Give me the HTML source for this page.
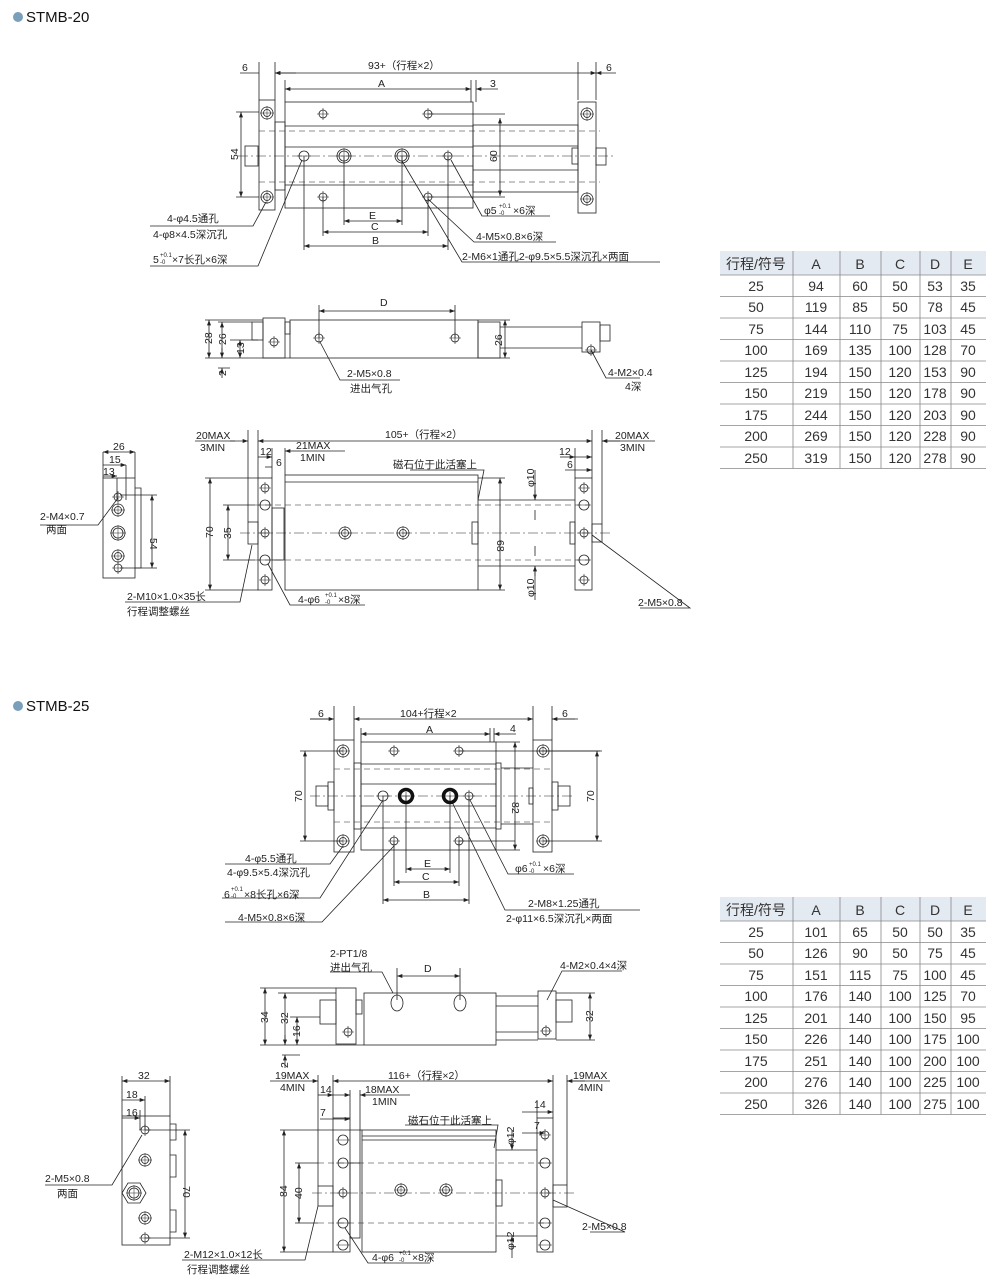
<!DOCTYPE html>
<html><head><meta charset="utf-8"><style>
html,body{margin:0;padding:0;background:#fff;width:1000px;height:1282px;overflow:hidden}
svg{display:block}
text{font-family:"Liberation Sans","Noto Sans CJK SC",sans-serif;fill:#222;font-size:10.5px}
.t{font-size:15px;fill:#111}
.tb{font-size:14px;fill:#333}
</style></head><body>
<svg width="1000" height="1282" viewBox="0 0 1000 1282" xmlns="http://www.w3.org/2000/svg">
<defs>
<marker id="ar" viewBox="0 0 8 6" refX="8" refY="3" markerWidth="7" markerHeight="5" orient="auto-start-reverse"><path d="M0,0L8,3L0,6z" fill="#222"/></marker>
<g id="ch"><circle r="4" fill="none" stroke="#222" stroke-width="0.8"/><path d="M-6,0H6M0,-6V6" stroke="#222" stroke-width="0.6"/></g>
<g id="mh"><circle r="6" fill="none" stroke="#222" stroke-width="0.8"/><circle r="3.5" fill="none" stroke="#222" stroke-width="0.8"/><path d="M-7,0H7M0,-7V7" stroke="#222" stroke-width="0.5"/></g>
<g id="bh"><circle r="7" fill="none" stroke="#222" stroke-width="0.8"/><circle r="5" fill="none" stroke="#222" stroke-width="0.8"/><path d="M-8,0H8M0,-8V8" stroke="#222" stroke-width="0.5"/></g>
<g id="bk"><circle r="6.5" fill="none" stroke="#111" stroke-width="3.5"/><path d="M-4,0H4M0,-4V4" stroke="#222" stroke-width="0.6"/></g>
<g id="sh"><circle r="5" fill="none" stroke="#222" stroke-width="0.8"/><path d="M-7,0H7" stroke="#222" stroke-width="0.5"/></g>
</defs>

<circle cx="18" cy="17" r="5" fill="#7a9fbb"/><text x="26" y="22" class="t">STMB-20</text>
<circle cx="18" cy="706" r="5" fill="#7a9fbb"/><text x="26" y="711" class="t">STMB-25</text>

<g fill="none" stroke="#222" stroke-width="0.8">
<rect x="259" y="100" width="16" height="110"/>
<rect x="275" y="122" width="10" height="68"/>
<rect x="245" y="146" width="13" height="20"/>
<rect x="285" y="102" width="188" height="106"/>
<path d="M285,126H473M285,147H473M285,166H473M285,185H473"/>
<rect x="473" y="125" width="105" height="67"/>
<path d="M473,146H578M473,170H578"/>
<rect x="578" y="102" width="18" height="111"/>
<rect x="572" y="148" width="6" height="16"/>
<rect x="596" y="148" width="10" height="17"/>
<path d="M259,131H600M259,182H600" stroke-dasharray="6,4" stroke-width="0.6"/>
<path d="M238,156H615" stroke-dasharray="10,3,2,3" stroke-width="0.6"/>
<path d="M259,100V62M275,100V62M578,100V62M596,100V62M285,102V80M471,102V80M476,102V80"/>
<path d="M240,73H259M296,73H275" marker-end="url(#ar)"/>
<path d="M275,73H596" marker-start="url(#ar)" marker-end="url(#ar)"/>
<path d="M616,73H596" marker-end="url(#ar)"/>
<path d="M285,89H471" marker-start="url(#ar)" marker-end="url(#ar)"/>
<path d="M498,89H476" marker-end="url(#ar)"/>
<path d="M241,112V197" marker-start="url(#ar)" marker-end="url(#ar)"/>
<path d="M236,112H259M236,197H259"/>
<path d="M500,118V196" marker-start="url(#ar)" marker-end="url(#ar)"/>
<path d="M428,114H505M428,197H505"/>
<path d="M344,156V225M402,156V225M323,197V236M428,197V236M304,156V250M448,156V250"/>
<path d="M344,221H402" marker-start="url(#ar)" marker-end="url(#ar)"/>
<path d="M323,232H428" marker-start="url(#ar)" marker-end="url(#ar)"/>
<path d="M304,246H448" marker-start="url(#ar)" marker-end="url(#ar)"/>
<path d="M150,226H253L266,202M150,266H258L302,160M451,160L482,216H550M428,199L474,242H556M402,161L462,262H660"/>
</g>
<use href="#mh" x="267" y="113"/><use href="#mh" x="267" y="197"/>
<use href="#mh" x="587" y="114"/><use href="#mh" x="587" y="199"/>
<use href="#ch" x="323" y="114"/><use href="#ch" x="428" y="114"/>
<use href="#ch" x="323" y="197"/><use href="#ch" x="428" y="197"/>
<use href="#sh" x="304" y="156"/><use href="#bh" x="344" y="156"/><use href="#bh" x="402" y="156"/><use href="#ch" x="448" y="156"/>
<text x="242" y="71">6</text><text x="368" y="69">93+（行程×2）</text><text x="606" y="71">6</text>
<text x="378" y="87">A</text><text x="490" y="87">3</text>
<text x="238" y="160" transform="rotate(-90 238 160)">54</text>
<text x="497" y="162" transform="rotate(-90 497 162)">60</text>
<text x="369" y="219">E</text><text x="371" y="230">C</text><text x="372" y="244">B</text>
<text x="167" y="222">4-φ4.5通孔</text><text x="153" y="238">4-φ8×4.5深沉孔</text>
<text x="153" y="263">5</text><text x="160" y="257" style="font-size:6px">+0.1</text><text x="160" y="264" style="font-size:6px">-0</text><text x="172" y="263">×7长孔×6深</text>
<text x="484" y="214">φ5</text><text x="499" y="208" style="font-size:6px">+0.1</text><text x="499" y="215" style="font-size:6px">-0</text><text x="513" y="214">×6深</text>
<text x="476" y="240">4-M5×0.8×6深</text>
<text x="462" y="260">2-M6×1通孔2-φ9.5×5.5深沉孔×两面</text>

<g fill="none" stroke="#222" stroke-width="0.8">
<rect x="263" y="318" width="22" height="40"/>
<rect x="252" y="322" width="11" height="18"/>
<rect x="285" y="322" width="5" height="12"/>
<rect x="290" y="320" width="188" height="38"/>
<rect x="478" y="322" width="22" height="36"/>
<path d="M500,327H582M500,348H582"/>
<rect x="582" y="322" width="18" height="30"/>
<rect x="600" y="325" width="10" height="16"/>
<path d="M205,320H263M205,358H290M218,322H252M230,340H258M218,368H230"/>
<path d="M209,320V358" marker-start="url(#ar)" marker-end="url(#ar)"/>
<path d="M222,322V358" marker-start="url(#ar)" marker-end="url(#ar)"/>
<path d="M240,340V358" marker-start="url(#ar)" marker-end="url(#ar)"/>
<path d="M222,348V358M222,378V368" marker-end="url(#ar)"/>
<path d="M505,320V358" marker-start="url(#ar)" marker-end="url(#ar)"/>
<path d="M478,320H510M478,358H510"/>
<path d="M319,338V305M455,338V305"/>
<path d="M319,311H455" marker-start="url(#ar)" marker-end="url(#ar)"/>
<path d="M320,342L340,380H400M591,350L606,378H640"/>
</g>
<use href="#ch" x="319" y="338"/><use href="#ch" x="455" y="338"/>
<use href="#ch" x="274" y="342"/><use href="#ch" x="591" y="350"/>
<text x="380" y="306">D</text>
<text x="212" y="344" transform="rotate(-90 212 344)">28</text>
<text x="226" y="345" transform="rotate(-90 226 345)">26</text>
<text x="244" y="354" transform="rotate(-90 244 354)">13</text>
<text x="226" y="376" transform="rotate(-90 226 376)">2</text>
<text x="502" y="346" transform="rotate(-90 502 346)">26</text>
<text x="347" y="377">2-M5×0.8</text><text x="350" y="392">进出气孔</text>
<text x="608" y="376">4-M2×0.4</text><text x="625" y="390">4深</text>

<g fill="none" stroke="#222" stroke-width="0.8">
<rect x="103" y="478" width="32" height="100"/>
<path d="M135,488H141V568H135"/>
<path d="M103,478V452M135,478V452M126,500V465M117,500V478"/>
<path d="M103,452H135" marker-start="url(#ar)" marker-end="url(#ar)"/>
<path d="M103,465H126" marker-end="url(#ar)"/>
<path d="M103,476H117" marker-end="url(#ar)"/>
<path d="M152,495V568" marker-start="url(#ar)" marker-end="url(#ar)"/>
<path d="M120,495H157M120,568H157"/>
<path d="M40,525H98L118,498"/>
<rect x="258" y="478" width="14" height="112"/>
<rect x="272" y="508" width="12" height="52"/>
<rect x="248" y="522" width="10" height="22"/>
<rect x="285" y="475" width="193" height="115"/>
<path d="M285,482H478"/>
<rect x="472" y="522" width="6" height="22"/>
<path d="M478,500H575M478,566H575"/>
<rect x="575" y="478" width="17" height="112"/>
<rect x="570" y="522" width="5" height="22"/>
<rect x="592" y="524" width="10" height="18"/>
<path d="M255,505H590M255,560H590" stroke-dasharray="6,4" stroke-width="0.6"/>
<path d="M240,533H610" stroke-dasharray="10,3,2,3" stroke-width="0.6"/>
<path d="M205,478H258M205,590H258M223,505H255M223,560H255M478,478H505M478,590H505"/>
<path d="M210,478V590" marker-start="url(#ar)" marker-end="url(#ar)"/>
<path d="M228,505V560" marker-start="url(#ar)" marker-end="url(#ar)"/>
<path d="M500,478V590" marker-start="url(#ar)" marker-end="url(#ar)"/>
<path d="M535,490V500M535,576V566M535,520V510M535,546V556"/>
<path d="M535,470V500" marker-end="url(#ar)"/><path d="M535,600V566" marker-end="url(#ar)"/>
<path d="M248,430V522M258,430V478M272,448V478M285,448V475M575,448V478M592,430V478M602,430V524"/>
<path d="M230,441H248" marker-end="url(#ar)"/>
<path d="M258,441H592" marker-start="url(#ar)" marker-end="url(#ar)"/>
<path d="M620,441H602" marker-end="url(#ar)"/>
<path d="M195,441H235M602,441H655"/>
<path d="M258,457H272" marker-end="url(#ar)"/>
<path d="M265,467H272"/>
<path d="M300,451H285" marker-end="url(#ar)"/>
<path d="M300,451H345"/>
<path d="M560,457H575" marker-end="url(#ar)"/>
<path d="M575,457H592" marker-end="url(#ar)"/>
<path d="M565,470H592" marker-end="url(#ar)"/>
<path d="M410,470H484L478,500"/>
<path d="M125,602H240L252,545M365,605H290L268,564M640,608H690L592,535"/>
</g>
<use href="#ch" x="118" y="497"/><use href="#mh" x="118" y="510"/><use href="#bh" x="118" y="533"/><use href="#mh" x="118" y="556"/><use href="#ch" x="118" y="568"/>
<use href="#ch" x="265" y="488"/><use href="#sh" x="265" y="505"/><use href="#ch" x="265" y="533"/><use href="#sh" x="265" y="560"/><use href="#ch" x="265" y="580"/>
<use href="#ch" x="584" y="488"/><use href="#sh" x="584" y="505"/><use href="#ch" x="584" y="533"/><use href="#sh" x="584" y="560"/><use href="#ch" x="584" y="580"/>
<use href="#mh" x="345" y="533"/><use href="#mh" x="403" y="533"/>
<text x="113" y="450">26</text><text x="109" y="463">15</text><text x="103" y="475">13</text>
<text x="150" y="538" transform="rotate(90 150 538)">54</text>
<text x="40" y="520">2-M4×0.7</text><text x="46" y="533">两面</text>
<text x="196" y="439">20MAX</text><text x="200" y="451">3MIN</text>
<text x="260" y="455">12</text><text x="276" y="466">6</text>
<text x="296" y="449">21MAX</text><text x="300" y="461">1MIN</text>
<text x="385" y="438">105+（行程×2）</text>
<text x="559" y="455">12</text><text x="567" y="468">6</text>
<text x="615" y="439">20MAX</text><text x="620" y="451">3MIN</text>
<text x="393" y="468">磁石位于此活塞上</text>
<text x="213" y="538" transform="rotate(-90 213 538)">70</text>
<text x="231" y="539" transform="rotate(-90 231 539)">35</text>
<text x="497" y="540" transform="rotate(90 497 540)">68</text>
<text x="534" y="487" transform="rotate(-90 534 487)">φ10</text>
<text x="534" y="597" transform="rotate(-90 534 597)">φ10</text>
<text x="127" y="600">2-M10×1.0×35长</text><text x="127" y="615">行程调整螺丝</text>
<text x="298" y="603">4-φ6</text><text x="325" y="597" style="font-size:6px">+0.1</text><text x="325" y="604" style="font-size:6px">-0</text><text x="338" y="603">×8深</text>
<text x="638" y="606">2-M5×0.8</text>

<g fill="none" stroke="#222" stroke-width="0.8">
<rect x="334" y="740" width="20" height="112"/>
<rect x="354" y="763" width="7" height="66"/>
<rect x="316" y="786" width="12" height="20"/><rect x="328" y="782" width="6" height="28"/>
<rect x="361" y="742" width="135" height="108"/>
<path d="M361,764H496M361,784H496M361,806H496M361,828H496"/>
<rect x="496" y="763" width="5" height="66"/>
<path d="M501,768H533M501,824H533"/>
<rect x="529" y="788" width="4" height="16"/>
<rect x="533" y="740" width="19" height="112"/>
<rect x="552" y="782" width="6" height="28"/><rect x="558" y="786" width="12" height="20"/>
<path d="M334,769H552M334,822H552" stroke-dasharray="6,4" stroke-width="0.6"/>
<path d="M310,796H575" stroke-dasharray="10,3,2,3" stroke-width="0.6"/>
<path d="M334,740V706M354,740V706M533,740V706M552,740V706M361,742V728M490,742V728M494,742V728"/>
<path d="M310,719H334" marker-end="url(#ar)"/><path d="M354,719H533" marker-start="url(#ar)" marker-end="url(#ar)"/><path d="M575,719H552" marker-end="url(#ar)"/>
<path d="M310,719H330M552,719H578"/>
<path d="M361,734H490" marker-start="url(#ar)" marker-end="url(#ar)"/>
<path d="M516,734H494" marker-end="url(#ar)"/>
<path d="M300,751H343M300,841H343"/>
<path d="M305,751V841" marker-start="url(#ar)" marker-end="url(#ar)"/>
<path d="M459,751H600M459,841H515"/>
<path d="M515,742V850" marker-start="url(#ar)" marker-end="url(#ar)"/>
<path d="M496,742H520M496,850H520"/>
<path d="M543,751H602M543,841H602"/>
<path d="M597,751V841" marker-start="url(#ar)" marker-end="url(#ar)"/>
<path d="M406,796V873M450,796V873M394,841V886M459,841V886M383,796V904M469,796V904"/>
<path d="M406,869H450" marker-start="url(#ar)" marker-end="url(#ar)"/>
<path d="M394,882H459" marker-start="url(#ar)" marker-end="url(#ar)"/>
<path d="M383,900H469" marker-start="url(#ar)" marker-end="url(#ar)"/>
<path d="M225,864H330L343,846M222,898H320L383,800M225,922H322L394,846M470,800L508,874H574M452,802L505,910H640"/>
</g>
<use href="#mh" x="343" y="751"/><use href="#mh" x="343" y="841"/><use href="#mh" x="543" y="751"/><use href="#mh" x="543" y="841"/>
<use href="#ch" x="394" y="751"/><use href="#ch" x="459" y="751"/><use href="#ch" x="394" y="841"/><use href="#ch" x="459" y="841"/>
<use href="#sh" x="383" y="796"/><use href="#bk" x="406" y="796"/><use href="#bk" x="450" y="796"/><use href="#ch" x="469" y="796"/>
<text x="318" y="717">6</text><text x="400" y="717">104+行程×2</text><text x="562" y="717">6</text>
<text x="426" y="733">A</text><text x="510" y="732">4</text>
<text x="302" y="802" transform="rotate(-90 302 802)">70</text>
<text x="512" y="802" transform="rotate(90 512 802)">82</text>
<text x="594" y="802" transform="rotate(-90 594 802)">70</text>
<text x="424" y="867">E</text><text x="422" y="880">C</text><text x="423" y="898">B</text>
<text x="245" y="862">4-φ5.5通孔</text><text x="227" y="876">4-φ9.5×5.4深沉孔</text>
<text x="224" y="898">6</text><text x="231" y="891" style="font-size:6px">+0.1</text><text x="231" y="898" style="font-size:6px">-0</text><text x="244" y="898">×8长孔×6深</text>
<text x="238" y="921">4-M5×0.8×6深</text>
<text x="515" y="872">φ6</text><text x="529" y="866" style="font-size:6px">+0.1</text><text x="529" y="873" style="font-size:6px">-0</text><text x="543" y="872">×6深</text>
<text x="528" y="907">2-M8×1.25通孔</text><text x="506" y="922">2-φ11×6.5深沉孔×两面</text>

<g fill="none" stroke="#222" stroke-width="0.8">
<rect x="336" y="988" width="20" height="56"/>
<rect x="320" y="1000" width="16" height="24"/>
<rect x="356" y="1000" width="6" height="14"/>
<rect x="364" y="993" width="132" height="52"/>
<path d="M496,996H538M496,1040H538M496,1006H538M496,1032H538"/>
<rect x="538" y="991" width="18" height="48"/>
<rect x="556" y="1000" width="16" height="22"/>
<path d="M260,988H336M278,993H336M290,1017H320M260,1045H364M282,1055H300"/>
<path d="M265,988V1045" marker-start="url(#ar)" marker-end="url(#ar)"/>
<path d="M285,993V1045" marker-start="url(#ar)" marker-end="url(#ar)"/>
<path d="M297,1017V1045" marker-start="url(#ar)" marker-end="url(#ar)"/>
<path d="M285,1035V1045M285,1068V1055" marker-end="url(#ar)"/>
<path d="M590,993V1040" marker-start="url(#ar)" marker-end="url(#ar)"/>
<path d="M556,993H595M556,1040H595"/>
<path d="M397,1000V968M460,1000V968"/>
<path d="M397,976H460" marker-start="url(#ar)" marker-end="url(#ar)"/>
<path d="M330,972H382L393,993M622,971H562L547,1000"/>
</g>
<ellipse cx="397" cy="1003" rx="6" ry="8" fill="none" stroke="#222" stroke-width="0.8"/>
<ellipse cx="460" cy="1003" rx="6" ry="8" fill="none" stroke="#222" stroke-width="0.8"/>
<use href="#ch" x="348" y="1032"/><use href="#ch" x="546" y="1031"/>
<text x="424" y="972">D</text>
<text x="330" y="957">2-PT1/8</text><text x="330" y="971">进出气孔</text>
<text x="560" y="969">4-M2×0.4×4深</text>
<text x="268" y="1023" transform="rotate(-90 268 1023)">34</text>
<text x="288" y="1024" transform="rotate(-90 288 1024)">32</text>
<text x="300" y="1037" transform="rotate(-90 300 1037)">16</text>
<text x="288" y="1068" transform="rotate(-90 288 1068)">2</text>
<text x="593" y="1022" transform="rotate(-90 593 1022)">32</text>

<g fill="none" stroke="#222" stroke-width="0.8">
<rect x="122" y="1116" width="48" height="129"/>
<path d="M170,1124H176V1140H170M170,1155H176V1177H170M170,1210H176V1232H170"/>
<path d="M122,1116V1076M170,1116V1076M145,1130V1096M140,1130V1110"/>
<path d="M122,1081H170" marker-start="url(#ar)" marker-end="url(#ar)"/>
<path d="M122,1100H145" marker-end="url(#ar)"/>
<path d="M122,1118H140" marker-end="url(#ar)"/>
<path d="M185,1130V1238" marker-start="url(#ar)" marker-end="url(#ar)"/>
<path d="M145,1130H190M145,1238H190"/>
<path d="M45,1185H112L142,1135"/>
<polygon points="122,1193 128,1183 140,1183 146,1193 140,1203 128,1203"/>
<rect x="333" y="1118" width="17" height="134"/>
<rect x="350" y="1163" width="10" height="75"/>
<rect x="318" y="1186" width="15" height="20"/>
<rect x="362" y="1130" width="134" height="122"/>
<path d="M362,1140H496M362,1136H496"/>
<rect x="496" y="1180" width="6" height="26"/>
<path d="M496,1150H537M496,1236H537"/>
<rect x="537" y="1118" width="16" height="134"/>
<rect x="553" y="1185" width="14" height="22"/>
<path d="M318,1163H550M318,1223H550" stroke-dasharray="6,4" stroke-width="0.6"/>
<path d="M312,1193H575" stroke-dasharray="10,3,2,3" stroke-width="0.6"/>
<path d="M280,1130H362M280,1252H333M295,1163H318M295,1223H318"/>
<path d="M284,1130V1252" marker-start="url(#ar)" marker-end="url(#ar)"/>
<path d="M299,1163V1223" marker-start="url(#ar)" marker-end="url(#ar)"/>
<path d="M512,1130V1150" marker-end="url(#ar)"/><path d="M512,1258V1236" marker-end="url(#ar)"/>
<path d="M318,1075V1186M333,1075V1118M350,1090V1118M360,1090V1163M537,1100V1118M553,1075V1118M567,1075V1185"/>
<path d="M300,1081H318" marker-end="url(#ar)"/>
<path d="M333,1081H553" marker-start="url(#ar)" marker-end="url(#ar)"/>
<path d="M585,1081H567" marker-end="url(#ar)"/>
<path d="M270,1081H300M567,1081H610"/>
<path d="M318,1095H333" marker-end="url(#ar)"/>
<path d="M333,1095H350" marker-end="url(#ar)"/>
<path d="M375,1095H360" marker-end="url(#ar)"/><path d="M375,1095H410"/>
<path d="M320,1119H350" marker-end="url(#ar)"/>
<path d="M522,1112H553" marker-end="url(#ar)"/>
<path d="M522,1133H545" marker-end="url(#ar)"/>
<path d="M405,1125H498L494,1148"/>
<path d="M182,1260H305L318,1206M430,1263H368L345,1228M590,1232H625L553,1200"/>
</g>
<use href="#ch" x="145" y="1130"/><use href="#mh" x="145" y="1160"/><use href="#bh" x="134" y="1193"/><use href="#mh" x="145" y="1218"/><use href="#ch" x="145" y="1238"/>
<use href="#sh" x="343" y="1140"/><use href="#sh" x="343" y="1163"/><use href="#ch" x="343" y="1193"/><use href="#sh" x="343" y="1223"/><use href="#sh" x="343" y="1245"/>
<use href="#ch" x="545" y="1135"/><use href="#sh" x="545" y="1163"/><use href="#ch" x="545" y="1193"/><use href="#sh" x="545" y="1223"/><use href="#sh" x="545" y="1245"/>
<use href="#mh" x="401" y="1190"/><use href="#mh" x="446" y="1190"/>
<text x="138" y="1079">32</text><text x="126" y="1098">18</text><text x="126" y="1116">16</text>
<text x="183" y="1186" transform="rotate(90 183 1186)">70</text>
<text x="45" y="1182">2-M5×0.8</text><text x="57" y="1197">两面</text>
<text x="275" y="1079">19MAX</text><text x="280" y="1091">4MIN</text>
<text x="320" y="1093">14</text><text x="365" y="1093">18MAX</text><text x="372" y="1105">1MIN</text>
<text x="320" y="1116">7</text>
<text x="388" y="1079">116+（行程×2）</text>
<text x="573" y="1079">19MAX</text><text x="578" y="1091">4MIN</text>
<text x="534" y="1108">14</text><text x="534" y="1129">7</text>
<text x="408" y="1124">磁石位于此活塞上</text>
<text x="287" y="1197" transform="rotate(-90 287 1197)">84</text>
<text x="302" y="1199" transform="rotate(-90 302 1199)">40</text>
<text x="514" y="1145" transform="rotate(-90 514 1145)">φ12</text>
<text x="514" y="1250" transform="rotate(-90 514 1250)">φ12</text>
<text x="184" y="1258">2-M12×1.0×12长</text><text x="187" y="1273">行程调整螺丝</text>
<text x="372" y="1261">4-φ6</text><text x="399" y="1255" style="font-size:6px">+0.1</text><text x="399" y="1262" style="font-size:6px">-0</text><text x="412" y="1261">×8深</text>
<text x="582" y="1230">2-M5×0.8</text>

<rect x="720" y="251" width="266" height="24" fill="#e4eaf2"/>
<g stroke="#888" stroke-width="0.8">
<path d="M720,275H986M720,296.5H986M720,318H986M720,339.5H986M720,361H986M720,382.5H986M720,404H986M720,425.5H986M720,447H986M720,468.5H986"/>
<path d="M793,251V468.5M840,251V468.5M881,251V468.5M920,251V468.5M951,251V468.5"/>
</g>
<g text-anchor="middle">
<text x="756" y="269" class="tb">行程/符号</text><text x="816" y="269" class="tb">A</text><text x="860" y="269" class="tb">B</text><text x="900" y="269" class="tb">C</text><text x="935" y="269" class="tb">D</text><text x="968" y="269" class="tb">E</text>
<text class="tb" x="756" y="291">25</text><text class="tb" x="816" y="291">94</text><text class="tb" x="860" y="291">60</text><text class="tb" x="900" y="291">50</text><text class="tb" x="935" y="291">53</text><text class="tb" x="968" y="291">35</text>
<text class="tb" x="756" y="312">50</text><text class="tb" x="816" y="312">119</text><text class="tb" x="860" y="312">85</text><text class="tb" x="900" y="312">50</text><text class="tb" x="935" y="312">78</text><text class="tb" x="968" y="312">45</text>
<text class="tb" x="756" y="334">75</text><text class="tb" x="816" y="334">144</text><text class="tb" x="860" y="334">110</text><text class="tb" x="900" y="334">75</text><text class="tb" x="935" y="334">103</text><text class="tb" x="968" y="334">45</text>
<text class="tb" x="756" y="355">100</text><text class="tb" x="816" y="355">169</text><text class="tb" x="860" y="355">135</text><text class="tb" x="900" y="355">100</text><text class="tb" x="935" y="355">128</text><text class="tb" x="968" y="355">70</text>
<text class="tb" x="756" y="377">125</text><text class="tb" x="816" y="377">194</text><text class="tb" x="860" y="377">150</text><text class="tb" x="900" y="377">120</text><text class="tb" x="935" y="377">153</text><text class="tb" x="968" y="377">90</text>
<text class="tb" x="756" y="398">150</text><text class="tb" x="816" y="398">219</text><text class="tb" x="860" y="398">150</text><text class="tb" x="900" y="398">120</text><text class="tb" x="935" y="398">178</text><text class="tb" x="968" y="398">90</text>
<text class="tb" x="756" y="420">175</text><text class="tb" x="816" y="420">244</text><text class="tb" x="860" y="420">150</text><text class="tb" x="900" y="420">120</text><text class="tb" x="935" y="420">203</text><text class="tb" x="968" y="420">90</text>
<text class="tb" x="756" y="441">200</text><text class="tb" x="816" y="441">269</text><text class="tb" x="860" y="441">150</text><text class="tb" x="900" y="441">120</text><text class="tb" x="935" y="441">228</text><text class="tb" x="968" y="441">90</text>
<text class="tb" x="756" y="463">250</text><text class="tb" x="816" y="463">319</text><text class="tb" x="860" y="463">150</text><text class="tb" x="900" y="463">120</text><text class="tb" x="935" y="463">278</text><text class="tb" x="968" y="463">90</text>
</g>

<rect x="720" y="897" width="266" height="24" fill="#e4eaf2"/>
<g stroke="#888" stroke-width="0.8">
<path d="M720,921H986M720,942.5H986M720,964H986M720,985.5H986M720,1007H986M720,1028.5H986M720,1050H986M720,1071.5H986M720,1093H986M720,1114.5H986"/>
<path d="M793,897V1114.5M840,897V1114.5M881,897V1114.5M920,897V1114.5M951,897V1114.5"/>
</g>
<g text-anchor="middle">
<text class="tb" x="756" y="915">行程/符号</text><text class="tb" x="816" y="915">A</text><text class="tb" x="860" y="915">B</text><text class="tb" x="900" y="915">C</text><text class="tb" x="935" y="915">D</text><text class="tb" x="968" y="915">E</text>
<text class="tb" x="756" y="937">25</text><text class="tb" x="816" y="937">101</text><text class="tb" x="860" y="937">65</text><text class="tb" x="900" y="937">50</text><text class="tb" x="935" y="937">50</text><text class="tb" x="968" y="937">35</text>
<text class="tb" x="756" y="958">50</text><text class="tb" x="816" y="958">126</text><text class="tb" x="860" y="958">90</text><text class="tb" x="900" y="958">50</text><text class="tb" x="935" y="958">75</text><text class="tb" x="968" y="958">45</text>
<text class="tb" x="756" y="980">75</text><text class="tb" x="816" y="980">151</text><text class="tb" x="860" y="980">115</text><text class="tb" x="900" y="980">75</text><text class="tb" x="935" y="980">100</text><text class="tb" x="968" y="980">45</text>
<text class="tb" x="756" y="1001">100</text><text class="tb" x="816" y="1001">176</text><text class="tb" x="860" y="1001">140</text><text class="tb" x="900" y="1001">100</text><text class="tb" x="935" y="1001">125</text><text class="tb" x="968" y="1001">70</text>
<text class="tb" x="756" y="1023">125</text><text class="tb" x="816" y="1023">201</text><text class="tb" x="860" y="1023">140</text><text class="tb" x="900" y="1023">100</text><text class="tb" x="935" y="1023">150</text><text class="tb" x="968" y="1023">95</text>
<text class="tb" x="756" y="1044">150</text><text class="tb" x="816" y="1044">226</text><text class="tb" x="860" y="1044">140</text><text class="tb" x="900" y="1044">100</text><text class="tb" x="935" y="1044">175</text><text class="tb" x="968" y="1044">100</text>
<text class="tb" x="756" y="1066">175</text><text class="tb" x="816" y="1066">251</text><text class="tb" x="860" y="1066">140</text><text class="tb" x="900" y="1066">100</text><text class="tb" x="935" y="1066">200</text><text class="tb" x="968" y="1066">100</text>
<text class="tb" x="756" y="1087">200</text><text class="tb" x="816" y="1087">276</text><text class="tb" x="860" y="1087">140</text><text class="tb" x="900" y="1087">100</text><text class="tb" x="935" y="1087">225</text><text class="tb" x="968" y="1087">100</text>
<text class="tb" x="756" y="1109">250</text><text class="tb" x="816" y="1109">326</text><text class="tb" x="860" y="1109">140</text><text class="tb" x="900" y="1109">100</text><text class="tb" x="935" y="1109">275</text><text class="tb" x="968" y="1109">100</text>
</g>
</svg>
</body></html>
